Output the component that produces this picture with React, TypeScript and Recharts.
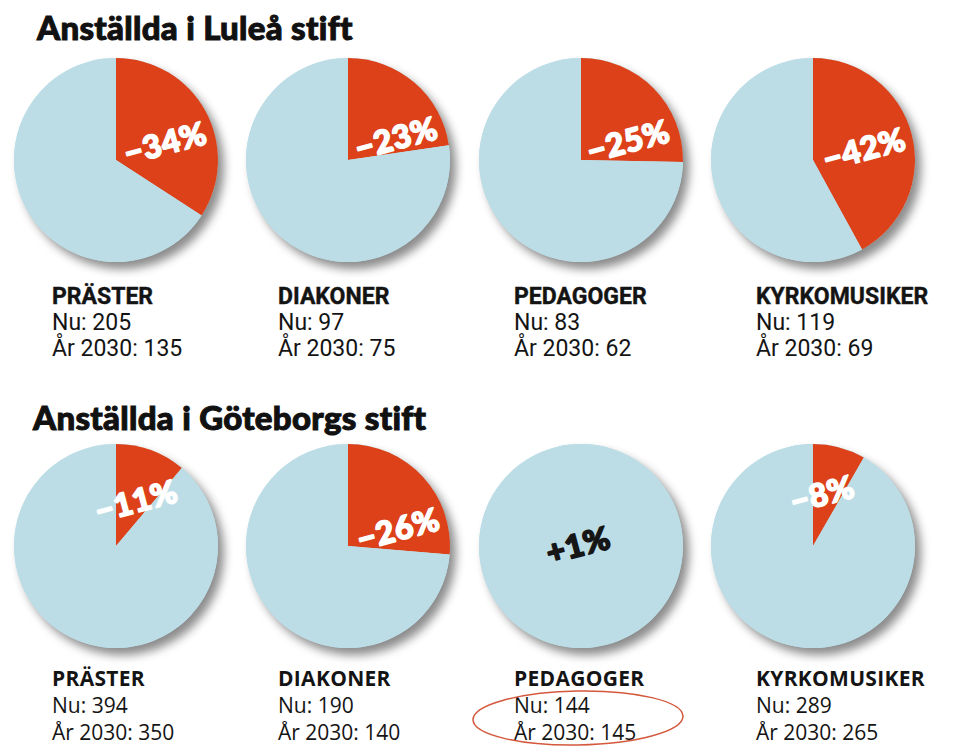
import React from 'react';
import { PieChart, Pie, Cell } from 'recharts';

const categories = ['PRÄSTER', 'DIAKONER', 'PEDAGOGER', 'KYRKOMUSIKER'];
const luleaNu = [205, 97, 83, 119];
const lulea2030 = [135, 75, 62, 69];
const luleaChange = ['\u221234%', '\u221223%', '\u221225%', '\u221242%'];
const gbgNu = [394, 190, 144, 289];
const gbg2030 = [350, 140, 145, 265];
const gbgChange = ['\u221211%', '\u221226%', '+1%', '\u22128%'];
const titles = ['Anställda i Luleå stift', 'Anställda i Göteborgs stift'];

const BLUE = '#bcdde6';
const RED = '#dc4119';

const colX = [116, 348, 581, 813];
const rowY = [160, 546];
const R = 102;
const textX = [52, 278, 514, 756];
const labelOff = [
  [[49, -18], [48, -23], [47, -20], [51, -12]],
  [[20, -46], [50, -18], [-3, -2], [9, -53]],
];

type Row = { nu: number[]; y2030: number[]; change: string[] };
const rows: Row[] = [
  { nu: luleaNu, y2030: lulea2030, change: luleaChange },
  { nu: gbgNu, y2030: gbg2030, change: gbgChange },
];

function pieData(nu: number, y: number) {
  return [
    { name: 'change', value: Math.abs(nu - y), up: y > nu },
    { name: 'rest', value: Math.min(nu, y), up: false },
  ];
}

export default function App() {
  const pies: React.ReactNode[] = [];
  rows.forEach((row, ri) => {
    row.nu.forEach((nu, ci) => {
      const total = Math.max(nu, row.y2030[ci]);
      pies.push(
        <Pie
          key={`s${ri}${ci}`}
          className="shadowPie"
          data={[{ name: 'all', value: total }]}
          dataKey="value"
          cx={colX[ci]}
          cy={rowY[ri]}
          outerRadius={R}
          startAngle={90}
          endAngle={-270}
          stroke="none"
          fill={BLUE}
          isAnimationActive={false}
        />
      );
      const d = pieData(nu, row.y2030[ci]);
      const label = row.change[ci];
      const off = labelOff[ri][ci];
      const up = d[0].up;
      const col = up ? '#161616' : '#ffffff';
      pies.push(
        <Pie
          key={`p${ri}${ci}`}
          data={d}
          dataKey="value"
          cx={colX[ci]}
          cy={rowY[ri]}
          outerRadius={R}
          startAngle={90}
          endAngle={-270}
          stroke="none"
          isAnimationActive={false}
          labelLine={false}
          label={(p: any) => {
            if (p.index !== 0) return null;
            const x = colX[ci] + off[0];
            const y = rowY[ri] + off[1];
            return (
              <text
                x={x}
                y={y}
                textAnchor="middle"
                dominantBaseline="central"
                transform={`rotate(-15 ${x} ${y})`}
                fill={col}
                stroke={col}
                strokeWidth={1.6}
                strokeLinejoin="round"
                style={{ fontFamily: 'Lato, sans-serif', fontWeight: 900, fontSize: 32, letterSpacing: 0.5 }}
              >
                {label}
              </text>
            );
          }}
        >
          {d.map((e, i) => (
            <Cell key={i} fill={i === 0 && !e.up ? RED : BLUE} />
          ))}
        </Pie>
      );
    });
  });

  const row1Font = { fontFamily: 'Roboto, sans-serif' };
  const row2Font = { fontFamily: '"Open Sans", sans-serif' };
  const titleStyle = { fontFamily: 'Lato, sans-serif', fontWeight: 900, fontSize: 33, letterSpacing: 0.3 };

  return (
    <div style={{ position: 'absolute', left: 0, top: 0, width: 960, height: 752, background: '#fff' }}>
      <style>{`.shadowPie path { filter: drop-shadow(6px 7px 5px rgba(0,0,0,0.45)); }`}</style>
      <PieChart width={960} height={752} margin={{ top: 0, right: 0, bottom: 0, left: 0 }}>
        {pies}
      </PieChart>
      <svg width={960} height={752} style={{ position: 'absolute', left: 0, top: 0, pointerEvents: 'none' }}>
        <text x={37} y={40} style={titleStyle} fill="#111" stroke="#111" strokeWidth={1}>
          {titles[0]}
        </text>
        <text x={33} y={430} style={titleStyle} fill="#111" stroke="#111" strokeWidth={1}>
          {titles[1]}
        </text>
        {categories.map((c, ci) => (
          <g key={`t1${ci}`} style={row1Font} fill="#141414">
            <text x={textX[ci]} y={304} style={{ fontWeight: 700, fontSize: 23 }} stroke="#141414" strokeWidth={0.4}>{c}</text>
            <text x={textX[ci]} y={330} style={{ fontWeight: 400, fontSize: 23 }}>{`Nu: ${luleaNu[ci]}`}</text>
            <text x={textX[ci]} y={356} style={{ fontWeight: 400, fontSize: 23 }}>{`År 2030: ${lulea2030[ci]}`}</text>
          </g>
        ))}
        {categories.map((c, ci) => (
          <g key={`t2${ci}`} style={row2Font} fill="#141414">
            <text x={textX[ci]} y={686} style={{ fontWeight: 700, fontSize: 21, letterSpacing: 0.3 }}>{c}</text>
            <text x={textX[ci]} y={713} style={{ fontWeight: 400, fontSize: 21 }}>{`Nu: ${gbgNu[ci]}`}</text>
            <text x={textX[ci]} y={740} style={{ fontWeight: 400, fontSize: 21 }}>{`År 2030: ${gbg2030[ci]}`}</text>
          </g>
        ))}
        <ellipse cx={578} cy={718} rx={105} ry={27} fill="none" stroke="#d4583c" strokeWidth={1.5} transform="rotate(-1 578 718)" />
      </svg>
    </div>
  );
}
